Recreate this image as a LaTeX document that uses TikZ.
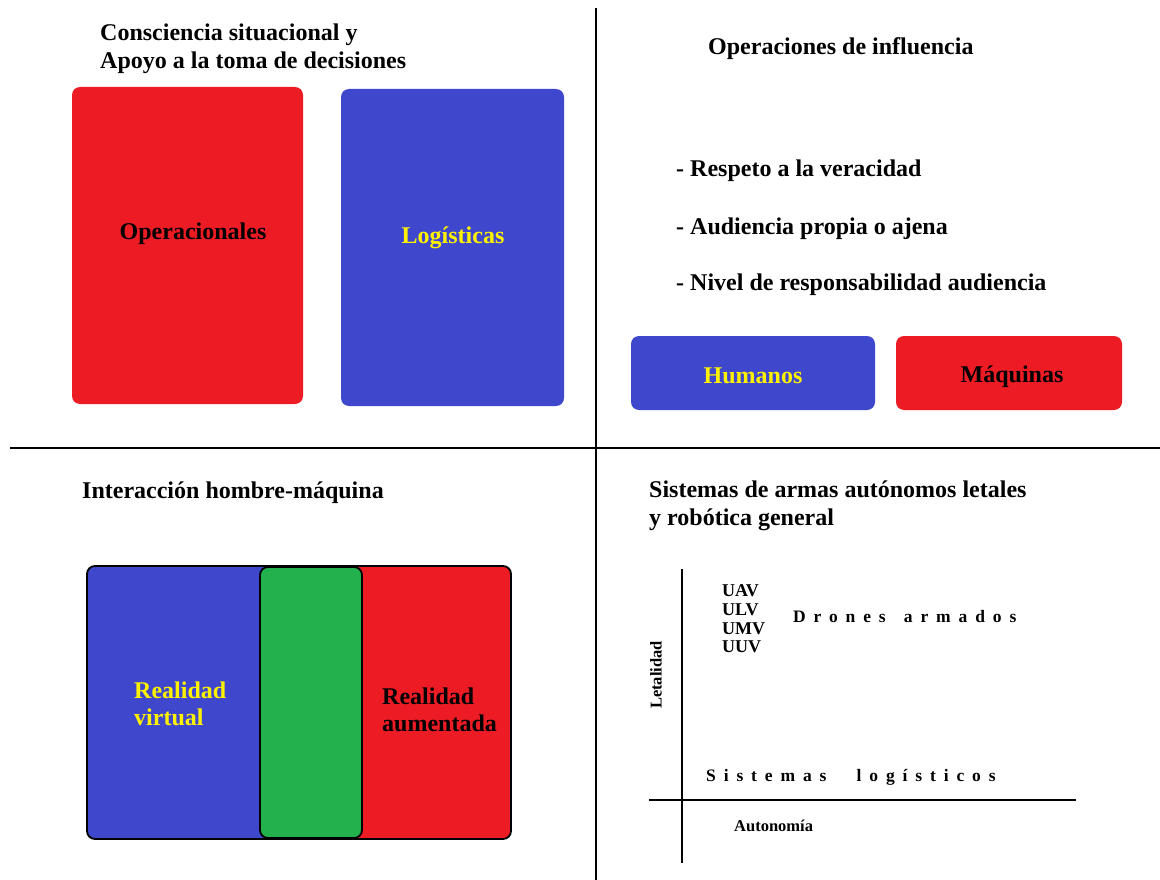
\documentclass[tikz,border=0pt]{standalone}
\usepackage{fontspec}
\setmainfont{Liberation Serif}
\definecolor{pred}{HTML}{ED1C24}
\definecolor{pblue}{HTML}{3F48CC}
\definecolor{pgreen}{HTML}{22B14C}
\definecolor{pyellow}{HTML}{FFF200}
\begin{document}
\begin{tikzpicture}[x=1pt,y=-1pt,
  every node/.style={font=\bfseries\fontsize{24}{28}\selectfont, inner sep=0pt},
  title/.style={anchor=base west, align=left},
  item/.style={anchor=base west},
  boxtext/.style={anchor=base},
  card/.style={rounded corners=8pt, draw=none},
  divider/.style={line width=2.2pt, black},
  axis/.style={line width=2pt, black},
  small/.style={font=\bfseries\fontsize{18}{20}\selectfont},
  tiny/.style={font=\bfseries\fontsize{16.5}{18}\selectfont},
  spaced/.style={font=\bfseries\fontsize{17.5}{20}\selectfont\addfontfeature{LetterSpace=45}}
]
\useasboundingbox (0,0) rectangle (1160,880);
\fill[white] (0,0) rectangle (1160,880);
% dividers
\coordinate (vt) at (596,8);
\coordinate (vb) at (596,880);
\coordinate (hl) at (10,448);
\coordinate (hr) at (1160,448);
\draw[divider] (vt) -- (vb);
\draw[divider] (hl) -- (hr);

% Top-left quadrant
\node[title] (t1) at (100,41) {Consciencia situacional y};
\node[title] (t1b) at (100,69) {Apoyo a la toma de decisiones};
\fill[card, pred] (72,87) rectangle (303,404);
\node[boxtext] (op) at (193,239) {Operacionales};
\fill[card, pblue] (341,89) rectangle (564,406);
\node[boxtext, text=pyellow] (lo) at (453,243) {Logísticas};

% Top-right quadrant
\node[title] (t2) at (708,55) {Operaciones de influencia};
\node[item] (b1) at (676,177) {- Respeto a la veracidad};
\node[item] (b2) at (676,234) {- Audiencia propia o ajena};
\node[item] (b3) at (676,290) {- Nivel de responsabilidad audiencia};
\fill[card, pblue] (631,336) rectangle (875,410);
\node[boxtext, text=pyellow] (hu) at (753,383) {Humanos};
\fill[card, pred] (896,336) rectangle (1122,410);
\node[boxtext] (ma) at (1012,382) {Máquinas};

% Bottom-left quadrant
\node[title] (t3) at (82,498) {Interacción hombre-máquina};
\fill[pblue, rounded corners=8pt] (87,566) rectangle (300,839);
\fill[pred, rounded corners=8pt] (300,566) rectangle (511,839);
\fill[pblue] (280,566) rectangle (300,839);
\fill[pred] (300,566) rectangle (320,839);
\draw[line width=1.8pt, rounded corners=8pt] (87,566) rectangle (511,839);
\draw[line width=1.8pt, fill=pgreen, rounded corners=8pt] (260,567) rectangle (362,838);
\node[title, text=pyellow] (rv) at (134,698) {Realidad};
\node[title, text=pyellow] (rv2) at (134,725) {virtual};
\node[title] (ra) at (382,704) {Realidad};
\node[title] (ra2) at (382,731) {aumentada};

% Bottom-right quadrant
\node[title] (t4) at (649,497) {Sistemas de armas autónomos letales};
\node[title] (t4b) at (649,525) {y robótica general};
\coordinate (yt) at (682,569);
\coordinate (yb) at (682,863);
\coordinate (xl) at (649,800);
\coordinate (xr) at (1076,800);
\draw[axis] (yt) -- (yb);
\draw[axis] (xl) -- (xr);
\node[item, small] (uav) at (722,596) {UAV};
\node[item, small] (ulv) at (722,615) {ULV};
\node[item, small] (umv) at (722,634) {UMV};
\node[item, small] (uuv) at (722,652) {UUV};
\node[item, spaced] (dr) at (793,622) {Drones\hspace{6pt} armados};
\node[item, spaced] (sl) at (706,781) {Sistemas\hspace{18pt} logísticos};
\node[tiny, rotate=90] (le) at (656,675) {Letalidad};
\node[item, tiny] (au) at (734,831) {Autonomía};
\end{tikzpicture}
\end{document}
